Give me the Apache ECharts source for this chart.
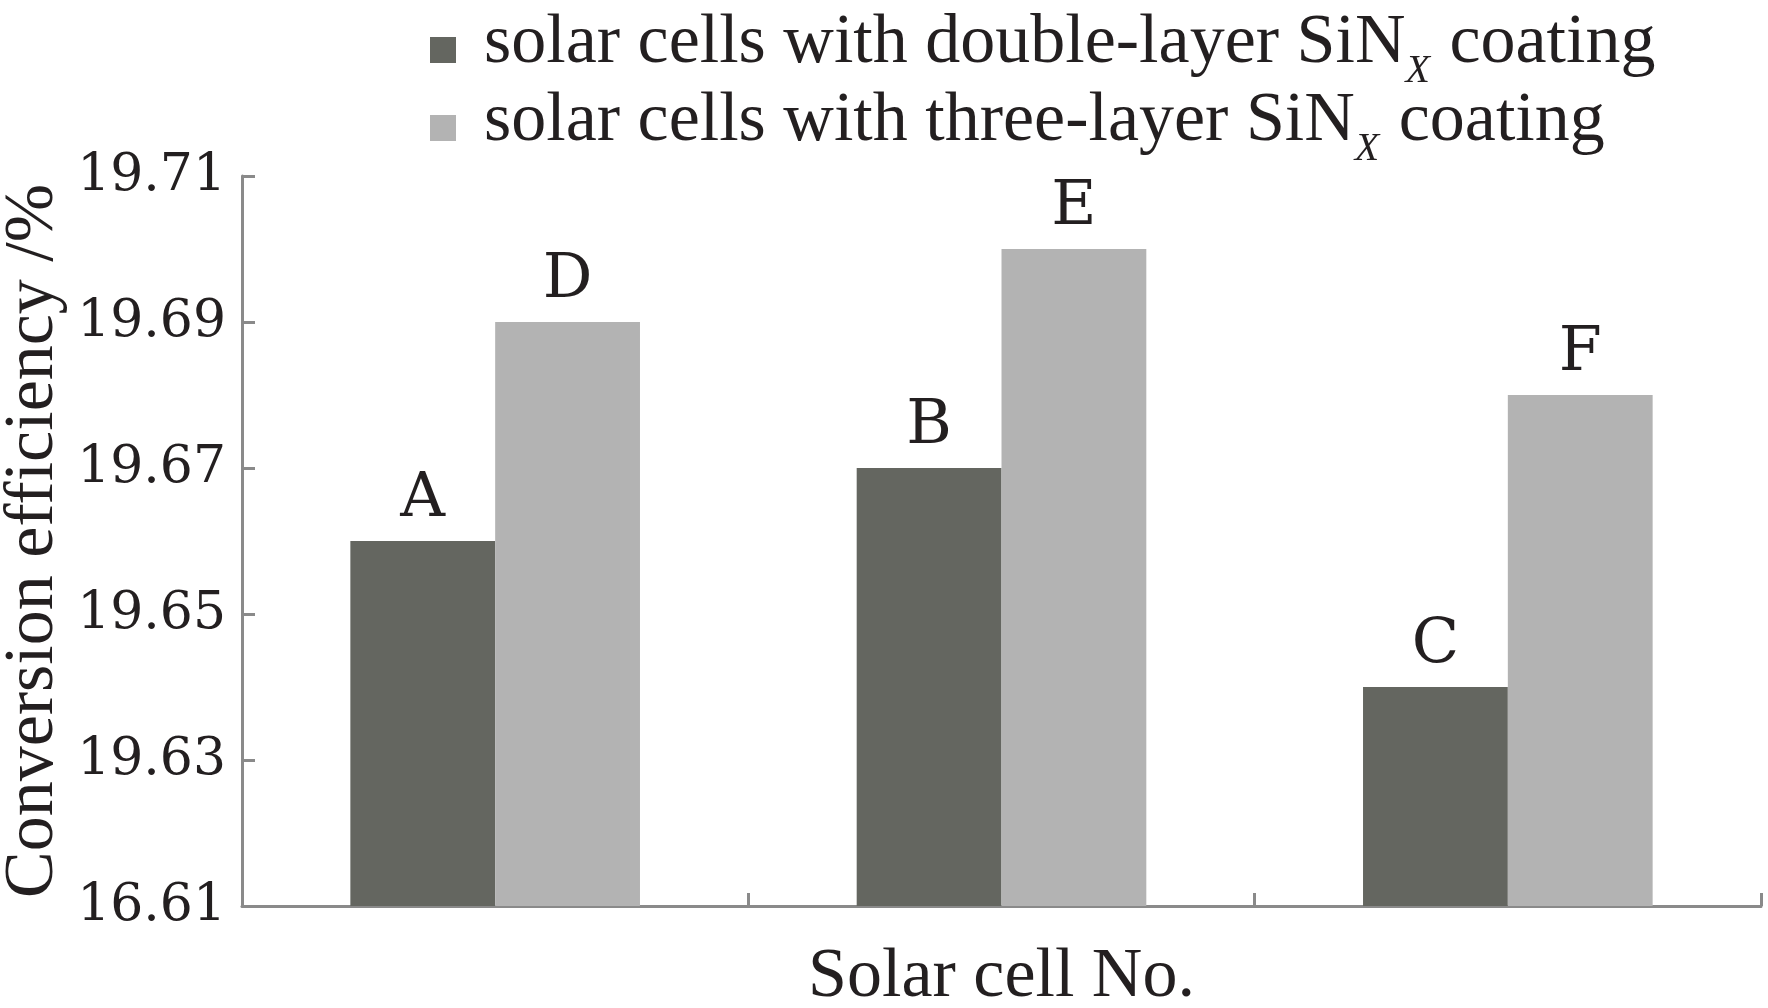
<!DOCTYPE html>
<html>
<head>
<meta charset="utf-8">
<script src="https://cdn.jsdelivr.net/npm/echarts@6/dist/echarts.min.js"></script>
<style>
html,body{margin:0;padding:0;background:#fff;}
#c{width:1768px;height:1008px;}
</style>
</head>
<body>
<div id="c"></div>
<script>
// ---- data ----
var categories = ['1', '2', '3'];
var doubleLayer = [19.66, 19.67, 19.64];
var threeLayer = [19.69, 19.70, 19.68];
var doubleLabels = ['A', 'B', 'C'];
var threeLabels = ['D', 'E', 'F'];
var yTickLabels = ['16.61', '19.63', '19.65', '19.67', '19.69', '19.71'];
var seriesNames = ['double', 'three'];
var legendPre = {double: 'solar cells with double-layer SiN', three: 'solar cells with three-layer SiN'};

var TXT = '#231f20';
var numFont = 'DejaVu Serif';
var txtFont = 'Liberation Serif';

var chart = echarts.init(document.getElementById('c'));
var yMin = 19.61, yInt = 0.02;

chart.setOption({
  animation: false,
  backgroundColor: '#fff',
  grid: {left: 242, right: 7, top: 176, bottom: 102, containLabel: false, outerBoundsMode: 'none'},
  legend: {
    orient: 'vertical',
    left: 430,
    top: 9,
    padding: 0,
    itemWidth: 26,
    itemHeight: 26,
    itemGap: -4,
    icon: 'rect',
    data: seriesNames,
    formatter: function (n) {
      return '{sp| }{m|' + legendPre[n] + '}{sub|X}{m| coating}';
    },
    textStyle: {
      fontFamily: txtFont, fontSize: 70, color: TXT,
      padding: [0, 0, 0, 22],
      rich: {
        sp: {fontSize: 4, lineHeight: 82, verticalAlign: 'top'},
        m: {fontFamily: txtFont, fontSize: 70, color: TXT, lineHeight: 70, verticalAlign: 'top'},
        sub: {fontFamily: txtFont, fontSize: 40, fontStyle: 'italic', color: TXT,
              verticalAlign: 'bottom', lineHeight: 40, padding: [0, 2, 0, 0]}
      }
    }
  },
  xAxis: {
    type: 'category',
    data: categories,
    name: 'Solar cell No.',
    nameLocation: 'middle',
    nameGap: 37,
    nameMoveOverlap: false,
    nameTextStyle: {fontFamily: txtFont, fontSize: 70, color: TXT},
    axisLine: {lineStyle: {color: '#8a8a8a', width: 3}},
    axisTick: {show: true, inside: true, length: 13, lineStyle: {color: '#8a8a8a', width: 3}},
    axisLabel: {show: false}
  },
  yAxis: {
    type: 'value',
    min: yMin,
    max: 19.71,
    interval: yInt,
    name: 'Conversion efficiency /%',
    nameLocation: 'middle',
    nameGap: 173,
    nameMoveOverlap: false,
    nameRotate: 90,
    nameTextStyle: {fontFamily: txtFont, fontSize: 70, color: TXT},
    splitLine: {show: false},
    axisLine: {show: true, lineStyle: {color: '#8a8a8a', width: 3}},
    axisTick: {show: true, inside: true, length: 13, lineStyle: {color: '#8a8a8a', width: 3}},
    axisLabel: {
      fontFamily: numFont, fontSize: 52, color: TXT, margin: 16,
      formatter: function (v) {
        var i = Math.round((v - yMin) / yInt);
        return yTickLabels[i] !== undefined ? yTickLabels[i] : '';
      }
    }
  },
  series: [
    {
      name: 'double', type: 'bar', data: doubleLayer, barWidth: '28.6%', barGap: '0%',
      itemStyle: {color: '#646660'},
      label: {show: true, position: 'top', distance: 10, fontFamily: numFont, fontSize: 62, color: TXT,
        formatter: function (p) { return doubleLabels[p.dataIndex]; }}
    },
    {
      name: 'three', type: 'bar', data: threeLayer, barWidth: '28.6%', barGap: '0%',
      itemStyle: {color: '#b3b3b3'},
      label: {show: true, position: 'top', distance: 10, fontFamily: numFont, fontSize: 62, color: TXT,
        formatter: function (p) { return threeLabels[p.dataIndex]; }}
    }
  ]
});
</script>
</body>
</html>
